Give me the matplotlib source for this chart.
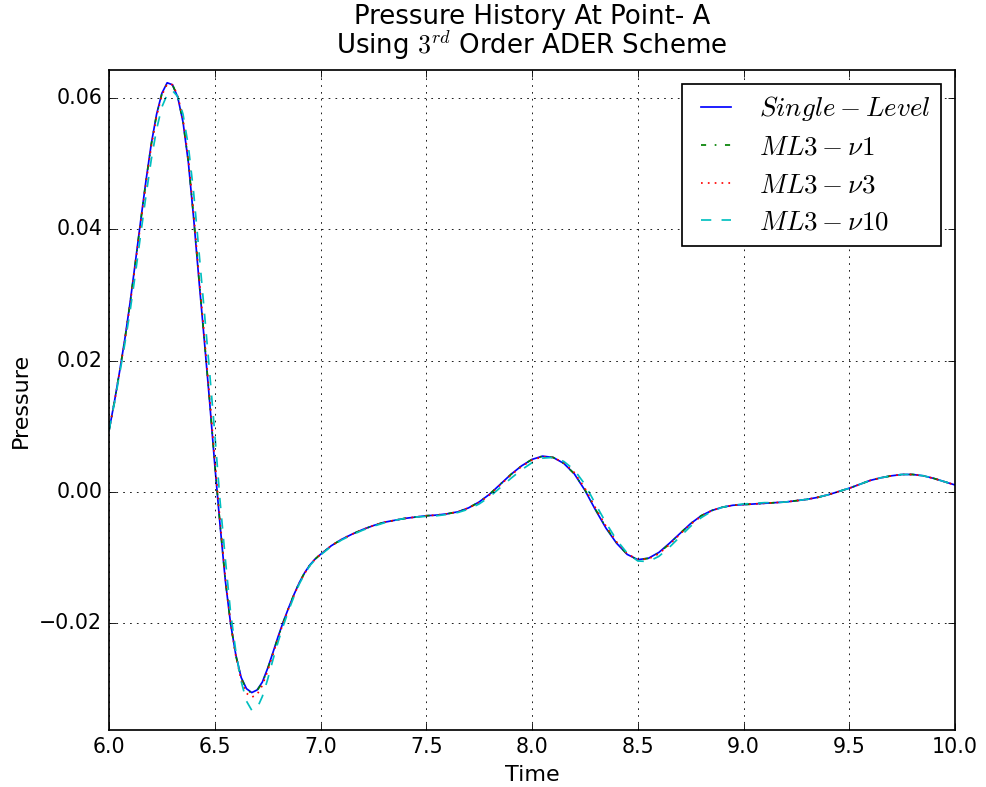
import matplotlib
matplotlib.use("Agg")
import matplotlib.pyplot as plt
import numpy as np

plt.style.use("classic")
plt.rcParams["mathtext.fontset"] = "cm"
plt.rcParams["font.family"] = ["DejaVu Sans"]

time = [6.000, 6.025, 6.050, 6.075, 6.100, 6.125, 6.150, 6.175, 6.200, 6.225,
        6.250, 6.275, 6.300, 6.325, 6.350, 6.375, 6.400, 6.425, 6.450, 6.475,
        6.500, 6.525, 6.550, 6.575, 6.600, 6.625, 6.650, 6.675, 6.700, 6.725,
        6.750, 6.775, 6.800, 6.825, 6.850, 6.875, 6.900, 6.925, 6.950, 6.975,
        7.00, 7.05, 7.10, 7.15, 7.20, 7.25, 7.30, 7.35, 7.40, 7.45,
        7.50, 7.55, 7.60, 7.65, 7.70, 7.75, 7.80, 7.85, 7.90, 7.95,
        8.00, 8.05, 8.10, 8.15, 8.20, 8.25, 8.30, 8.35, 8.40, 8.45,
        8.50, 8.55, 8.60, 8.65, 8.70, 8.75, 8.80, 8.85, 8.90, 8.95,
        9.00, 9.05, 9.10, 9.15, 9.20, 9.25, 9.30, 9.35, 9.40, 9.45,
        9.50, 9.55, 9.60, 9.65, 9.70, 9.75, 9.80, 9.85, 9.90, 9.95, 10.00]

single_level = [0.0093, 0.0136, 0.0183, 0.0233, 0.0289, 0.0351, 0.0414, 0.0475, 0.0531, 0.0576,
                0.0608, 0.0624, 0.0621, 0.0602, 0.0564, 0.0503, 0.0418, 0.0324, 0.0233, 0.0140,
                0.0041, -0.0051, -0.0136, -0.0202, -0.0250, -0.0284, -0.0301, -0.0307, -0.0303, -0.0291,
                -0.0270, -0.0246, -0.0221, -0.0198, -0.0177, -0.0157, -0.0139, -0.0124, -0.0112, -0.0103,
                -0.0096, -0.0083, -0.0073, -0.0065, -0.0058, -0.0052, -0.0047, -0.0044, -0.0041, -0.0039,
                -0.0037, -0.0036, -0.0034, -0.0031, -0.0025, -0.0016, -0.0004, 0.0011, 0.0026, 0.0039,
                0.0049, 0.0054, 0.0052, 0.0043, 0.0027, 0.0002, -0.0028, -0.0056, -0.0079, -0.0096,
                -0.0104, -0.0102, -0.0093, -0.0079, -0.0064, -0.0049, -0.0037, -0.0029, -0.0024, -0.0021,
                -0.0020, -0.0019, -0.0018, -0.0017, -0.0016, -0.0014, -0.0012, -0.0009, -0.0005, 0.0000,
                0.0005, 0.0011, 0.0017, 0.0021, 0.0024, 0.0026, 0.0026, 0.0024, 0.0020, 0.0015, 0.0010]

ml3_nu1 = [0.0093, 0.0136, 0.0183, 0.0232, 0.0288, 0.0350, 0.0413, 0.0474, 0.0530, 0.0575,
           0.0607, 0.0623, 0.0621, 0.0603, 0.0565, 0.0505, 0.0420, 0.0326, 0.0235, 0.0142,
           0.0043, -0.0049, -0.0135, -0.0202, -0.0251, -0.0285, -0.0302, -0.0308, -0.0304, -0.0292,
           -0.0271, -0.0247, -0.0222, -0.0199, -0.0177, -0.0157, -0.0139, -0.0124, -0.0112, -0.0103,
           -0.0096, -0.0083, -0.0073, -0.0065, -0.0058, -0.0052, -0.0047, -0.0044, -0.0041, -0.0039,
           -0.0037, -0.0036, -0.0034, -0.0031, -0.0025, -0.0016, -0.0004, 0.0011, 0.0026, 0.0039,
           0.0049, 0.0054, 0.0052, 0.0043, 0.0027, 0.0003, -0.0027, -0.0055, -0.0078, -0.0096,
           -0.0104, -0.0102, -0.0094, -0.0080, -0.0064, -0.0049, -0.0037, -0.0029, -0.0024, -0.0021,
           -0.0020, -0.0019, -0.0018, -0.0017, -0.0016, -0.0014, -0.0012, -0.0009, -0.0005, 0.0000,
           0.0005, 0.0011, 0.0017, 0.0021, 0.0024, 0.0026, 0.0026, 0.0024, 0.0020, 0.0015, 0.0010]

ml3_nu3 = [0.0093, 0.0135, 0.0182, 0.0231, 0.0286, 0.0348, 0.0410, 0.0471, 0.0527, 0.0573,
           0.0605, 0.0622, 0.0621, 0.0605, 0.0568, 0.0509, 0.0425, 0.0331, 0.0240, 0.0147,
           0.0049, -0.0044, -0.0131, -0.0201, -0.0252, -0.0288, -0.0308, -0.0314, -0.0310, -0.0296,
           -0.0274, -0.0249, -0.0223, -0.0200, -0.0178, -0.0158, -0.0140, -0.0125, -0.0113, -0.0103,
           -0.0096, -0.0083, -0.0073, -0.0065, -0.0058, -0.0052, -0.0047, -0.0044, -0.0041, -0.0039,
           -0.0037, -0.0036, -0.0034, -0.0031, -0.0025, -0.0017, -0.0005, 0.0010, 0.0025, 0.0038,
           0.0048, 0.0053, 0.0052, 0.0044, 0.0029, 0.0005, -0.0025, -0.0053, -0.0077, -0.0095,
           -0.0104, -0.0103, -0.0095, -0.0081, -0.0065, -0.0050, -0.0038, -0.0029, -0.0024, -0.0021,
           -0.0020, -0.0019, -0.0018, -0.0017, -0.0016, -0.0014, -0.0012, -0.0009, -0.0005, 0.0000,
           0.0005, 0.0011, 0.0017, 0.0021, 0.0024, 0.0026, 0.0026, 0.0024, 0.0020, 0.0015, 0.0010]

ml3_nu10 = [0.0093, 0.0134, 0.0179, 0.0226, 0.0276, 0.0333, 0.0393, 0.0452, 0.0507, 0.0553,
            0.0587, 0.0606, 0.0612, 0.0603, 0.0576, 0.0528, 0.0457, 0.0368, 0.0277, 0.0185,
            0.0089, -0.0014, -0.0103, -0.0185, -0.0245, -0.0290, -0.0320, -0.0334, -0.0331, -0.0313,
            -0.0287, -0.0257, -0.0229, -0.0204, -0.0181, -0.0160, -0.0141, -0.0126, -0.0113, -0.0104,
            -0.0097, -0.0084, -0.0074, -0.0066, -0.0059, -0.0053, -0.0048, -0.0044, -0.0041, -0.0039,
            -0.0038, -0.0037, -0.0035, -0.0032, -0.0027, -0.0019, -0.0008, 0.0006, 0.0020, 0.0033,
            0.0044, 0.0051, 0.0052, 0.0046, 0.0033, 0.0011, -0.0019, -0.0048, -0.0074, -0.0094,
            -0.0106, -0.0107, -0.0099, -0.0085, -0.0069, -0.0053, -0.0040, -0.0030, -0.0024, -0.0021,
            -0.0019, -0.0018, -0.0017, -0.0017, -0.0016, -0.0014, -0.0012, -0.0009, -0.0005, 0.0000,
            0.0005, 0.0011, 0.0017, 0.0021, 0.0024, 0.0026, 0.0026, 0.0024, 0.0020, 0.0015, 0.0010]

labels = [r"$Single-Level$", r"$ML3-\nu1$", r"$ML3-\nu3$", r"$ML3-\nu10$"]

fig = plt.figure(figsize=(8.0, 787 / 123.25), dpi=123.25, facecolor="white")
ax = fig.add_axes([109 / 986, 1 - 730 / 787, (955 - 109) / 986, (730 - 70) / 787])

ax.plot(time, single_level, "b-", label=labels[0])
ax.plot(time, ml3_nu1, "g-.", label=labels[1])
ax.plot(time, ml3_nu3, "r:", label=labels[2])
ax.plot(time, ml3_nu10, "c--", label=labels[3])

ax.set_xlim(6.0, 10.0)
ax.set_ylim(-0.03641, 0.06435)
ax.set_xticks(np.arange(6.0, 10.01, 0.5))
ax.set_yticks([-0.02, 0.0, 0.02, 0.04, 0.06])
ax.grid(True)
ax.set_xlabel("Time", fontsize=13)
ax.set_ylabel("Pressure", fontsize=13)
ax.set_title("Pressure History At Point- A\nUsing $3^{rd}$ Order ADER Scheme",
             fontsize=15.2, pad=9.5, linespacing=0.95)
ax.legend(loc="upper right", prop={"size": 15.8}, labelspacing=0.42,
          handletextpad=0.75, borderpad=0.4, handlelength=1.7)

fig.savefig("out.png", dpi=123.25, facecolor="white")
